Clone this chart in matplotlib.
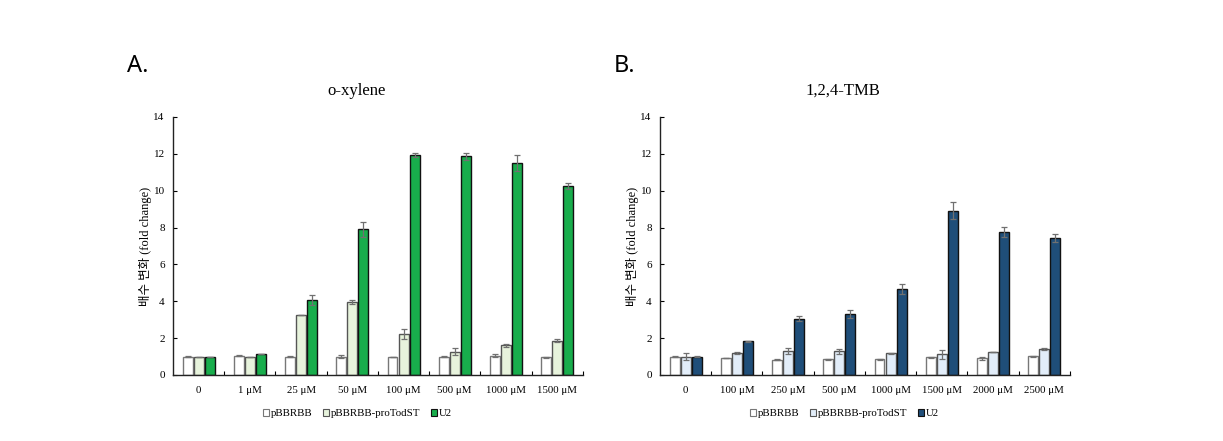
import matplotlib.pyplot as plt
import numpy as np
from matplotlib.patches import Patch

# panel A: o-xylene
cats_a = ['0', '1 μM', '25 μM', '50 μM', '100 μM', '500 μM', '1000 μM', '1500 μM']
a_pbb = [1.0, 1.05, 1.0, 1.0, 1.0, 1.0, 1.05, 0.95]
a_pbb_err = [0.02, 0.03, 0.03, 0.08, 0.0, 0.05, 0.08, 0.05]
a_tod = [1.0, 1.0, 3.25, 3.97, 2.22, 1.27, 1.62, 1.87]
a_tod_err = [0.0, 0.0, 0.02, 0.1, 0.25, 0.18, 0.08, 0.06]
a_u2 = [1.0, 1.13, 4.05, 7.9, 11.92, 11.87, 11.5, 10.25]
a_u2_err = [0.0, 0.0, 0.27, 0.42, 0.1, 0.18, 0.45, 0.15]

# panel B: 1,2,4-TMB
cats_b = ['0', '100 μM', '250 μM', '500 μM', '1000 μM', '1500 μM', '2000 μM', '2500 μM']
b_pbb = [1.0, 0.9, 0.82, 0.85, 0.85, 0.97, 0.92, 1.02]
b_pbb_err = [0.04, 0.0, 0.03, 0.02, 0.02, 0.03, 0.08, 0.02]
b_tod = [1.0, 1.2, 1.3, 1.28, 1.18, 1.12, 1.25, 1.42]
b_tod_err = [0.17, 0.04, 0.15, 0.15, 0.04, 0.25, 0.02, 0.06]
b_u2 = [1.0, 1.82, 3.05, 3.3, 4.68, 8.92, 7.75, 7.42]
b_u2_err = [0.02, 0.05, 0.13, 0.22, 0.28, 0.45, 0.28, 0.22]

series_names = ['pBBRBB', 'pBBRBB-proTodST', 'U2']

serif = ['Liberation Serif', 'Noto Sans CJK KR']
plt.rcParams['font.family'] = serif

fig = plt.figure(figsize=(12.23, 4.41), dpi=100)


def panel(rect, cats, vals, errs, colors, edges, title, letter, letter_x):
    ax = fig.add_axes(rect)
    x = np.arange(len(cats)) + 0.5
    w = 0.195
    offs = [-0.215, 0.0, 0.215]
    for v, e, c, ec, o in zip(vals, errs, colors, edges, offs):
        ax.bar(x + o, v, w, color=c, edgecolor=ec, linewidth=1.0, zorder=2)
        ax.errorbar(x + o, v, yerr=e, fmt='none', ecolor='#707070',
                    elinewidth=0.9, capsize=2, capthick=0.9, zorder=3)
    ax.set_xlim(0, len(cats))
    ax.set_ylim(0, 14)
    ax.set_yticks(range(0, 15, 2))
    ax.set_xticks(x)
    ax.set_xticklabels(cats)
    ax.set_xticks(np.arange(1, len(cats) + 1), minor=True)
    ax.tick_params(axis='x', which='major', length=0, labelsize=7.8, pad=8)
    ax.tick_params(axis='x', which='minor', direction='in', length=3, width=0.8)
    ax.tick_params(axis='y', direction='in', length=3, width=0.8, labelsize=8, pad=6)
    for s in ['top', 'right']:
        ax.spines[s].set_visible(False)
    for s in ['left', 'bottom']:
        ax.spines[s].set_linewidth(1.0)
        ax.spines[s].set_color('#222222')
    ax.set_ylabel('배수 변화 (fold change)', fontsize=9, labelpad=1)
    ax.set_title(title, fontsize=12, pad=16, x=0.447)
    fig.text(letter_x, 0.85, letter, fontsize=17, family=['Noto Sans', 'DejaVu Sans'],
             va='center')
    handles = [Patch(facecolor=c, edgecolor=ec, linewidth=0.8) for c, ec in zip(colors, edges)]
    ax.legend(handles, series_names, loc='upper center', bbox_to_anchor=(0.45, -0.095),
              ncol=3, frameon=False, fontsize=7.8, handlelength=0.55, handleheight=0.55,
              handletextpad=0.15, columnspacing=1.0)
    return ax


panel([0.1415, 0.1497, 0.335, 0.585], cats_a, [a_pbb, a_tod, a_u2],
      [a_pbb_err, a_tod_err, a_u2_err], ['white', '#e7f3dc', '#18ad4c'],
      ['#777777', '#555555', '#111111'], 'o-xylene', 'A.', 0.104)
panel([0.5397, 0.1497, 0.335, 0.585], cats_b, [b_pbb, b_tod, b_u2],
      [b_pbb_err, b_tod_err, b_u2_err], ['white', '#e2edf9', '#1f4e79'],
      ['#777777', '#555555', '#111111'], '1,2,4-TMB', 'B.', 0.502)

fig.savefig('out.png', dpi=100)
